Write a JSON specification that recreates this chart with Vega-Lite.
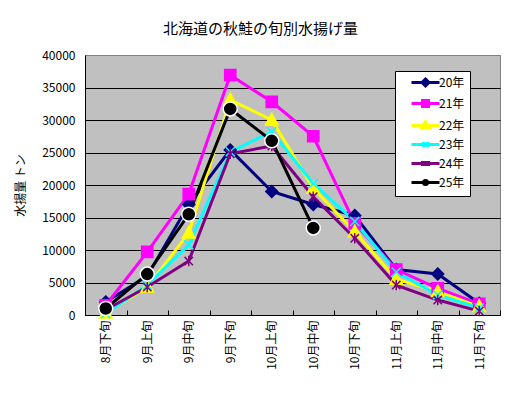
{
  "$schema": "https://vega.github.io/schema/vega-lite/v6.json",
  "width": 415,
  "height": 260,
  "autosize": {"type": "none"},
  "padding": {"left": 85, "top": 55, "right": 22, "bottom": 82},
  "background": "white",
  "title": {"text": "北海道の秋鮭の旬別水揚げ量", "fontSize": 15, "fontWeight": "normal", "color": "black", "anchor": "middle", "dx": -32, "offset": 12},
  "config": {
    "font": "Noto Sans CJK JP",
    "view": {"fill": "#C0C0C0", "stroke": "#808080"}
  },
  "data": {"values": [
    {"period": "8月下旬", "year": "20年", "value": 2000},
    {"period": "9月上旬", "year": "20年", "value": 6000},
    {"period": "9月中旬", "year": "20年", "value": 17000},
    {"period": "9月下旬", "year": "20年", "value": 25400},
    {"period": "10月上旬", "year": "20年", "value": 19000},
    {"period": "10月中旬", "year": "20年", "value": 17000},
    {"period": "10月下旬", "year": "20年", "value": 15300},
    {"period": "11月上旬", "year": "20年", "value": 7000},
    {"period": "11月中旬", "year": "20年", "value": 6300},
    {"period": "11月下旬", "year": "20年", "value": 1800},
    {"period": "8月下旬", "year": "21年", "value": 1500},
    {"period": "9月上旬", "year": "21年", "value": 9700},
    {"period": "9月中旬", "year": "21年", "value": 18600},
    {"period": "9月下旬", "year": "21年", "value": 36900},
    {"period": "10月上旬", "year": "21年", "value": 32800},
    {"period": "10月中旬", "year": "21年", "value": 27500},
    {"period": "10月下旬", "year": "21年", "value": 14100},
    {"period": "11月上旬", "year": "21年", "value": 7000},
    {"period": "11月中旬", "year": "21年", "value": 4100},
    {"period": "11月下旬", "year": "21年", "value": 1700},
    {"period": "8月下旬", "year": "22年", "value": 300},
    {"period": "9月上旬", "year": "22年", "value": 4300},
    {"period": "9月中旬", "year": "22年", "value": 12600},
    {"period": "9月下旬", "year": "22年", "value": 33100},
    {"period": "10月上旬", "year": "22年", "value": 30000},
    {"period": "10月中旬", "year": "22年", "value": 19500},
    {"period": "10月下旬", "year": "22年", "value": 12800},
    {"period": "11月上旬", "year": "22年", "value": 5500},
    {"period": "11月中旬", "year": "22年", "value": 3600},
    {"period": "11月下旬", "year": "22年", "value": 1300},
    {"period": "8月下旬", "year": "23年", "value": 200},
    {"period": "9月上旬", "year": "23年", "value": 4600},
    {"period": "9月中旬", "year": "23年", "value": 10800},
    {"period": "9月下旬", "year": "23年", "value": 25100},
    {"period": "10月上旬", "year": "23年", "value": 28200},
    {"period": "10月中旬", "year": "23年", "value": 20200},
    {"period": "10月下旬", "year": "23年", "value": 14400},
    {"period": "11月上旬", "year": "23年", "value": 6600},
    {"period": "11月中旬", "year": "23年", "value": 3100},
    {"period": "11月下旬", "year": "23年", "value": 1100},
    {"period": "8月下旬", "year": "24年", "value": 800},
    {"period": "9月上旬", "year": "24年", "value": 4300},
    {"period": "9月中旬", "year": "24年", "value": 8300},
    {"period": "9月下旬", "year": "24年", "value": 24800},
    {"period": "10月上旬", "year": "24年", "value": 26000},
    {"period": "10月中旬", "year": "24年", "value": 18200},
    {"period": "10月下旬", "year": "24年", "value": 11800},
    {"period": "11月上旬", "year": "24年", "value": 4600},
    {"period": "11月中旬", "year": "24年", "value": 2300},
    {"period": "11月下旬", "year": "24年", "value": 600},
    {"period": "8月下旬", "year": "25年", "value": 1000},
    {"period": "9月上旬", "year": "25年", "value": 6300},
    {"period": "9月中旬", "year": "25年", "value": 15500},
    {"period": "9月下旬", "year": "25年", "value": 31700},
    {"period": "10月上旬", "year": "25年", "value": 26800},
    {"period": "10月中旬", "year": "25年", "value": 13400}
  ]},
  "encoding": {
    "x": {
      "field": "period", "type": "ordinal", "bandPosition": 0.5,
      "sort": ["8月下旬","9月上旬","9月中旬","9月下旬","10月上旬","10月中旬","10月下旬","11月上旬","11月中旬","11月下旬"],
      "scale": {"type": "band", "paddingInner": 0, "paddingOuter": 0},
      "axis": {"title": null, "labelAngle": -90, "labelFontSize": 12, "labelColor": "black", "domainColor": "black", "tickColor": "black", "tickSize": -5, "tickBand": "extent", "labelPadding": 10, "grid": false}
    },
    "y": {
      "field": "value", "type": "quantitative",
      "scale": {"domain": [0, 40000], "nice": false},
      "axis": {"values": [0,5000,10000,15000,20000,25000,30000,35000,40000], "format": "d", "domainColor": "black", "gridColor": {"condition": {"test": "datum.value >= 40000", "value": "#808080"}, "value": "black"}, "gridOpacity": 1, "ticks": false, "labelPadding": 10, "labelFontSize": 12, "labelColor": "black", "title": "水揚量 トン", "titleFontSize": 12, "titleFontWeight": "normal", "titleColor": "black", "titlePadding": 14}
    }
  },
  "layer": [
    {
      "mark": {"type": "line", "strokeWidth": 3},
      "encoding": {
        "color": {
          "field": "year", "type": "nominal",
          "scale": {"domain": ["20年","21年","22年","23年","24年","25年"], "range": ["#000080","#FF00FF","#FFFF00","#00FFFF","#800080","#000000"]},
          "legend": {
            "orient": "none", "legendX": 310, "legendY": 16, "title": null,
            "fillColor": "white", "strokeColor": "black", "padding": 5,
            "symbolSize": 100, "labelOffset": 26, "rowPadding": 2,
            "labelFontSize": 12, "labelColor": "black", "symbolStrokeWidth": 3,
            "encode": {"symbols": {"update": {
              "shape": {"signal": "datum.value == '20年' ? 'M1,0H6.6M3.8,-0.7L4.5,0L3.8,0.7L3.1,0Z' : datum.value == '21年' ? 'M1,0H6.6M3.2,-0.6H4.4V0.6H3.2Z' : datum.value == '22年' ? 'M1,0H6.6M3.8,-0.8L4.6,0.5H3Z' : datum.value == '23年' ? 'M1,0H6.6M3.4,-0.5V0.5M4.2,-0.5V0.5' : datum.value == '24年' ? 'M1,0H6.6M3.2,-0.5V0.5M3.8,-0.5V0.5M4.4,-0.5V0.5' : 'M1,0H6.6M3.8,-0.4A0.4,0.4,0,1,1,3.8,0.4A0.4,0.4,0,1,1,3.8,-0.4Z'"},
              "fill": {"scale": "color", "field": "value"},
              "stroke": {"scale": "color", "field": "value"}
            }}}
          }
        }
      }
    },
    {
      "transform": [{"filter": "datum.year == '20年'"}],
      "mark": {"type": "point", "filled": true, "size": 196, "strokeWidth": 1.5, "opacity": 1, "shape": "M0,-0.85L0.85,0L0,0.85L-0.85,0Z", "fill": "#000080", "stroke": "#000080"}
    },
    {
      "transform": [{"filter": "datum.year == '21年'"}],
      "mark": {"type": "point", "filled": true, "size": 196, "strokeWidth": 1.5, "opacity": 1, "shape": "M-0.8,-0.8H0.8V0.8H-0.8Z", "fill": "#FF00FF", "stroke": "#FF00FF"}
    },
    {
      "transform": [{"filter": "datum.year == '22年'"}],
      "mark": {"type": "point", "filled": true, "size": 196, "strokeWidth": 1.5, "opacity": 1, "shape": "M0,-0.95L0.9,0.7H-0.9Z", "fill": "#FFFF00", "stroke": "#FFFF00"}
    },
    {
      "transform": [{"filter": "datum.year == '23年'"}],
      "mark": {"type": "point", "filled": false, "size": 196, "strokeWidth": 1.5, "opacity": 1, "shape": "M-0.65,-0.65L0.65,0.65M-0.65,0.65L0.65,-0.65", "stroke": "#00FFFF"}
    },
    {
      "transform": [{"filter": "datum.year == '24年'"}],
      "mark": {"type": "point", "filled": false, "size": 196, "strokeWidth": 1.5, "opacity": 1, "shape": "M-0.6,-0.6L0.6,0.6M-0.6,0.6L0.6,-0.6M0,-0.75V0.75", "stroke": "#800080"}
    },
    {
      "transform": [{"filter": "datum.year == '25年'"}],
      "mark": {"type": "point", "filled": true, "size": 196, "strokeWidth": 1.5, "opacity": 1, "shape": "circle", "fill": "#000000", "stroke": "#FFFFFF"}
    }
  ]
}
